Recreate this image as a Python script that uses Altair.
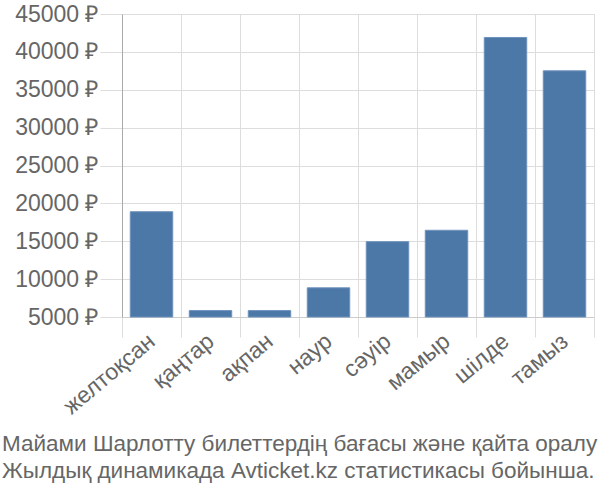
import altair as alt
import pandas as pd

months = ["желтоқсан", "қаңтар", "ақпан", "наур", "сәуір", "мамыр", "шілде", "тамыз"]
prices = [18900, 5850, 5850, 8850, 14950, 16450, 41900, 37500]
y_ticks = [5000, 10000, 15000, 20000, 25000, 30000, 35000, 40000, 45000]
title_lines = [
    "Майами Шарлотту билеттердің бағасы және қайта оралу",
    "Жылдық динамикада Avticket.kz статистикасы бойынша.",
]

df = pd.DataFrame({"month": months, "price": prices, "base": [5000] * len(months)})

FONT = "Liberation Sans"
GRAY = "#666666"
FS = 23

chart = (
    alt.Chart(df)
    .mark_bar(color="#4c78a8", stroke="#6f93bd", strokeWidth=1, width=alt.RelativeBandSize(0.72))
    .encode(
        x=alt.X(
            "month:N",
            sort=months,
            title=None,
            scale=alt.Scale(paddingInner=0, paddingOuter=0),
            axis=alt.Axis(
                labelAngle=-40,
                labelBaseline="middle",
                labelFontSize=FS,
                labelFont=FONT,
                labelColor=GRAY,
                labelPadding=1,
                tickBand="extent",
                tickSize=20,
                tickColor="#dddddd",
                grid=True,
                gridColor="#dddddd",
                domainColor="#cccccc",
            ),
        ),
        y=alt.Y(
            "price:Q",
            title=None,
            scale=alt.Scale(domain=[5000, 45000], zero=False, nice=False),
            axis=alt.Axis(
                values=y_ticks,
                labelExpr="datum.value + ' ₽'",
                labelFontSize=FS,
                labelFont=FONT,
                labelColor=GRAY,
                tickSize=22,
                tickColor="#dddddd",
                labelPadding=2,
                gridColor="#dddddd",
                domainColor="#aaaaaa",
            ),
        ),
        y2="base:Q",
    )
    .properties(
        width=472,
        height=303,
        padding={"left": 122, "top": 14, "right": 6, "bottom": 183},
        autosize=alt.AutoSizeParams(type="none"),
        title=alt.TitleParams(
            text=title_lines,
            orient="bottom",
            anchor="start",
            frame="group",
            dx=-120,
            fontSize=22.5,
            font=FONT,
            fontWeight="normal",
            color=GRAY,
            lineHeight=27,
            offset=14,
        ),
    )
    .configure_view(stroke=None)
)

chart.save("out.html", embed_options={"renderer": "svg", "actions": False})
